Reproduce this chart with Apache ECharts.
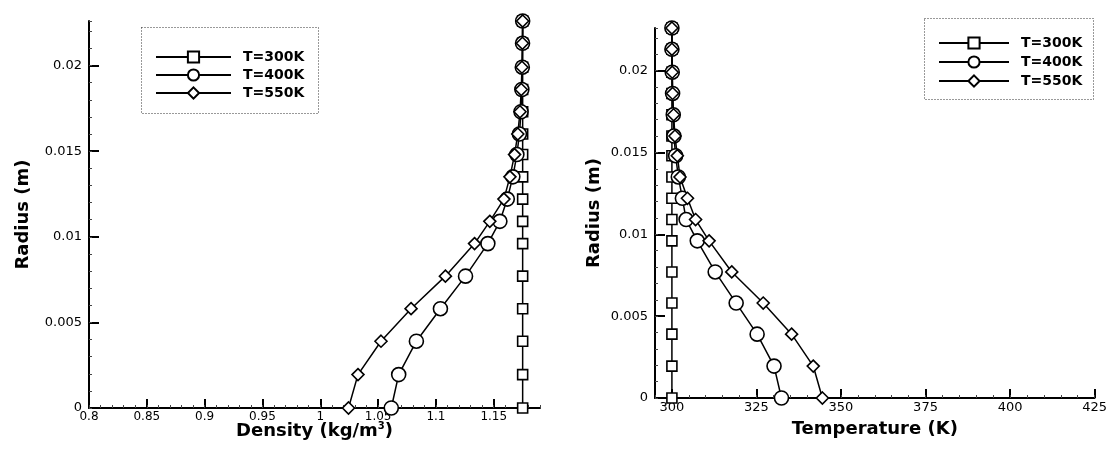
<!DOCTYPE html>
<html>
<head>
<meta charset="utf-8">
<script src="https://cdn.jsdelivr.net/npm/echarts@6/dist/echarts.min.js"></script>
<style>
html,body{margin:0;padding:0;background:#fff;}
#c{width:1110px;height:455px;}
</style>
</head>
<body>
<div id="c"></div>
<script>
// ---- data ----
const seriesNames = ['T=300K', 'T=400K', 'T=550K'];
const radius = [0, 0.00195, 0.0039, 0.0058, 0.0077, 0.0096, 0.0109, 0.0122, 0.0135, 0.0148, 0.016, 0.0173, 0.0186, 0.0199, 0.0213, 0.0226];
const density300 = [1.175, 1.175, 1.175, 1.175, 1.175, 1.175, 1.175, 1.175, 1.175, 1.175, 1.175, 1.175, 1.175, 1.175, 1.175, 1.175];
const density400 = [1.0614, 1.0678, 1.0831, 1.1039, 1.1256, 1.1449, 1.1553, 1.1617, 1.1665, 1.1700, 1.1722, 1.1736, 1.1743, 1.1747, 1.1749, 1.175];
const density550 = [1.0244, 1.0326, 1.0525, 1.0785, 1.1082, 1.1334, 1.1466, 1.1588, 1.1640, 1.1680, 1.1708, 1.1727, 1.1738, 1.1744, 1.1748, 1.175];
const temp300 = [300, 300, 300, 300, 300, 300, 300, 300, 300, 300, 300, 300, 300, 300, 300, 300];
const temp400 = [332.4, 330.2, 325.2, 319.0, 312.8, 307.5, 304.2, 303.1, 301.9, 301.1, 300.6, 300.4, 300.2, 300.1, 300.0, 300.0];
const temp550 = [344.5, 341.8, 335.4, 327.0, 317.7, 311.0, 307.0, 304.6, 302.4, 301.6, 300.9, 300.5, 300.2, 300.1, 300.0, 300.0];
const densityTicks = [0.8, 0.85, 0.9, 0.95, 1, 1.05, 1.1, 1.15];
const tempTicks = [300, 325, 350, 375, 400, 425];
const radiusTicks = [0, 0.005, 0.01, 0.015, 0.02];

// ---- helpers ----
const FONT = 'DejaVu Sans';
const symbols = ['rect', 'circle', 'diamond'];
const symSizes = [10, 14, 12];

function onList(list) {
  return function (v) {
    for (const t of list) { if (Math.abs(v - t) < 1e-9) return String(t); }
    return '';
  };
}

function mkSeries(name, idx, xs, ys, axisIdx) {
  return {
    name: name,
    type: 'line',
    xAxisIndex: axisIdx,
    yAxisIndex: axisIdx,
    data: xs.map((x, i) => [x, ys[i]]),
    symbol: symbols[idx],
    symbolSize: symSizes[idx],
    showAllSymbol: true,
    clip: false,
    itemStyle: { color: '#fff', borderColor: '#000', borderWidth: 1.6 },
    lineStyle: { color: '#000', width: 1.5 },
    emphasis: { disabled: true },
    animation: false
  };
}

function majorX(grid, min, max, interval, ticks, name, nameGap, labelSize, rich) {
  return {
    type: 'value', gridIndex: grid, min: min, max: max, interval: interval,
    position: 'bottom',
    axisLine: { show: true, onZero: false, lineStyle: { color: '#000', width: 2 } },
    axisTick: { show: true, inside: true, length: 9, customValues: ticks, lineStyle: { color: '#000', width: 2 } },
    axisLabel: { show: true, margin: 3, customValues: ticks, formatter: onList(ticks), color: '#000', fontFamily: FONT, fontSize: labelSize },
    splitLine: { show: false },
    name: name, nameLocation: 'middle', nameGap: nameGap, nameMoveOverlap: false,
    nameTextStyle: { color: '#000', fontFamily: FONT, fontWeight: 'bold', fontSize: 18, rich: rich }
  };
}
function minorX(grid, min, max, interval) {
  return {
    type: 'value', gridIndex: grid, min: min, max: max, interval: interval,
    position: 'bottom',
    axisLine: { show: false, onZero: false },
    axisTick: { show: true, inside: true, length: 3, lineStyle: { color: '#444', width: 1 } },
    axisLabel: { show: false },
    splitLine: { show: false }
  };
}
function majorY(grid, max, nameGap) {
  return {
    type: 'value', gridIndex: grid, min: 0, max: max, interval: 0.005,
    position: 'left',
    axisLine: { show: true, onZero: false, lineStyle: { color: '#000', width: 2 } },
    axisTick: { show: true, inside: true, length: 10, customValues: radiusTicks, lineStyle: { color: '#000', width: 2 } },
    axisLabel: { show: true, margin: 7, customValues: radiusTicks, formatter: onList(radiusTicks), color: '#000', fontFamily: FONT, fontSize: 13 },
    splitLine: { show: false },
    name: 'Radius (m)', nameLocation: 'middle', nameGap: nameGap, nameRotate: 90, nameMoveOverlap: false,
    nameTextStyle: { color: '#000', fontFamily: FONT, fontWeight: 'bold', fontSize: 18 }
  };
}
function minorY(grid, max) {
  return {
    type: 'value', gridIndex: grid, min: 0, max: max, interval: 0.001,
    position: 'left',
    axisLine: { show: false, onZero: false },
    axisTick: { show: true, inside: true, length: 3, lineStyle: { color: '#444', width: 1 } },
    axisLabel: { show: false },
    splitLine: { show: false }
  };
}

const richName = {
  a: { fontFamily: FONT, fontWeight: 'bold', fontSize: 18, color: '#000' },
  s: { fontFamily: FONT, fontWeight: 'bold', fontSize: 10, color: '#000', verticalAlign: 'top', padding: [0, 0, 10, 0] }
};

function legendAt(left, top, width, gap, pad) {
  return {
    left: left, top: top, itemGap: gap, data: seriesNames,
    orient: 'vertical',
    itemWidth: width,
    itemHeight: 14,
    selectedMode: false,
    textStyle: { color: '#000', fontFamily: FONT, fontWeight: 'bold', fontSize: 14, padding: [0, 0, 0, pad] }
  };
}

const option = {
  backgroundColor: '#fff',
  animation: false,
  grid: [
    { left: 89, top: 21, width: 451, height: 387 },
    { left: 655, top: 28, width: 440, height: 370 }
  ],
  xAxis: [
    majorX(0, 0.8, 1.19, 0.05, densityTicks, '{a|Density (kg/m}{s|3}{a|)}', 13, 12, richName),
    minorX(0, 0.8, 1.19, 0.01),
    majorX(1, 295, 425, 5, tempTicks, 'Temperature (K)', 22, 13, null),
    minorX(1, 295, 425, 5)
  ],
  yAxis: [
    majorY(0, 0.0226, 57),
    minorY(0, 0.0226),
    majorY(1, 0.0226, 52),
    minorY(1, 0.0226)
  ],
  legend: [
    legendAt(150, 45, 75, 4, 7),
    legendAt(933, 31, 70, 5, 7)
  ],
  graphic: [
    { type: 'rect', shape: { x: 141.5, y: 27.5, width: 177, height: 86 }, style: { fill: null, stroke: '#333', lineWidth: 1, lineDash: [1, 2] }, silent: true },
    { type: 'rect', shape: { x: 924.5, y: 18.5, width: 169, height: 81 }, style: { fill: null, stroke: '#333', lineWidth: 1, lineDash: [1, 2] }, silent: true }
  ],
  series: [
    mkSeries(seriesNames[0], 0, density300, radius, 0),
    mkSeries(seriesNames[1], 1, density400, radius, 0),
    mkSeries(seriesNames[2], 2, density550, radius, 0),
    mkSeries(seriesNames[0], 0, temp300, radius, 2),
    mkSeries(seriesNames[1], 1, temp400, radius, 2),
    mkSeries(seriesNames[2], 2, temp550, radius, 2)
  ]
};

const chart = echarts.init(document.getElementById('c'), null, { renderer: 'canvas' });
chart.setOption(option);
</script>
</body>
</html>
